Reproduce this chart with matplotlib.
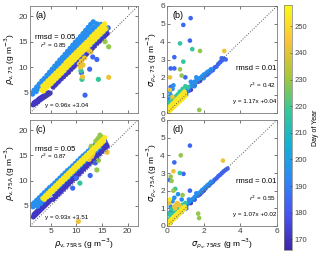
import matplotlib
matplotlib.use('Agg')
import numpy as np
import matplotlib.pyplot as plt
from matplotlib.colors import LinearSegmentedColormap
from matplotlib.cm import ScalarMappable
from matplotlib.colors import Normalize

plt.rcParams.update({'font.family': ['Liberation Sans', 'DejaVu Sans'],
                     'font.size': 6, 'mathtext.fontset': 'dejavusans'})

# parula-like colormap
parula = LinearSegmentedColormap.from_list('parula', [
    (0.2422, 0.1504, 0.6603), (0.2810, 0.3228, 0.9579), (0.1786, 0.5289, 0.9682),
    (0.0689, 0.6948, 0.8394), (0.2161, 0.7843, 0.5923), (0.6720, 0.7793, 0.2227),
    (0.9970, 0.7659, 0.2199), (0.9769, 0.9839, 0.0805)])
day_lo, day_hi = 166, 258

#%% panel (a) data: rho_v,75 vs rho_v,75RS
a_dark_x = [1.6, 1.9, 2.2, 2.5, 2.8, 3.1, 3.4, 3.7, 4.0, 4.3, 4.6, 4.9,
            1.8, 2.1, 2.4, 2.7, 3.0, 3.3, 3.6, 3.9, 4.2, 4.5,
            5.5, 6.0, 6.5, 7.0, 7.5, 8.0, 8.5, 9.0, 9.5, 10.0, 10.5, 11.0, 11.5, 12.0, 12.5,
            13.0, 13.5, 14.0, 14.5, 15.0, 15.5, 16.0,
            5.8, 6.3, 6.8, 7.3, 7.8, 8.3, 8.8, 9.3, 9.8, 10.3, 10.8, 11.3, 11.8, 12.3, 12.8,
            13.3, 13.8, 14.3, 14.8, 15.3, 15.8]
a_dark_y = [2.6, 2.8, 3.0, 3.2, 3.5, 3.7, 3.9, 4.1, 4.3, 4.5, 4.7, 4.9,
            3.0, 3.2, 3.4, 3.7, 3.9, 4.1, 4.3, 4.5, 4.8, 5.0,
            6.1, 6.6, 7.1, 7.7, 8.1, 8.6, 9.0, 9.6, 10.1, 10.6, 11.2, 11.6, 12.1, 12.6, 13.1,
            13.6, 14.1, 14.7, 15.1, 15.6, 16.1, 16.6,
            6.9, 7.4, 7.9, 8.4, 8.9, 9.4, 9.9, 10.4, 10.9, 11.4, 11.9, 12.4, 12.9, 13.4, 13.9,
            14.4, 14.9, 15.4, 15.9, 16.4, 16.9]
a_blue_x = [4.8, 5.3, 5.8, 6.3, 6.8, 7.3, 7.8, 8.3, 8.8, 9.3, 9.8, 10.3, 10.8, 11.3, 11.8,
            12.3, 12.8, 13.3, 13.8, 14.3, 14.8, 15.3, 15.8, 16.2,
            12.6, 14.0, 11.0, 11.7, 13.2]
a_blue_y = [6.4, 6.9, 7.4, 7.9, 8.4, 8.9, 9.4, 9.9, 10.4, 10.9, 11.4, 11.9, 12.4, 12.9, 13.4,
            13.9, 14.4, 14.9, 15.4, 15.9, 16.4, 16.9, 17.4, 17.7,
            9.6, 11.5, 8.9, 4.5, 12.0]
a_light_x = [1.3, 1.8, 2.3, 2.8, 3.3, 3.8, 4.3, 4.8, 5.3, 5.8, 6.3, 6.8, 7.3, 7.8, 8.3, 8.8,
             9.3, 9.8, 10.3, 10.8, 11.3, 11.8, 12.3, 12.8, 13.3,
             1.5, 2.0, 2.5, 3.0, 3.5, 4.0, 4.5, 5.0, 5.5, 6.0, 6.5, 7.0, 7.5, 8.0, 8.5, 9.0,
             9.5, 10.0, 10.5, 11.0, 11.5, 12.0, 12.5, 13.0, 13.5, 14.0,
             2.2, 2.8, 3.4, 4.0, 4.6, 5.2, 5.8, 6.4, 7.0, 7.6, 8.2, 8.8, 9.4, 10.0, 10.6,
             11.2, 11.8, 12.4, 13.0, 13.6, 14.2, 14.8]
a_light_y = [4.9, 5.5, 6.1, 6.7, 7.3, 7.8, 8.4, 9.0, 9.6, 10.2, 10.8, 11.4, 11.9, 12.5, 13.1, 13.7,
             14.3, 14.9, 15.4, 16.0, 16.6, 17.2, 17.8, 18.4, 18.9,
             4.7, 5.3, 5.8, 6.4, 6.9, 7.5, 8.0, 8.6, 9.1, 9.7, 10.2, 10.8, 11.3, 11.9, 12.4, 13.0,
             13.5, 14.1, 14.6, 15.2, 15.7, 16.3, 16.8, 17.4, 17.9, 18.5,
             5.2, 5.8, 6.5, 7.1, 7.7, 8.4, 9.0, 9.6, 10.3, 10.9, 11.5, 12.1, 12.8, 13.4, 14.0,
             14.7, 15.3, 15.9, 16.6, 17.2, 17.8, 18.4]
a_teal_x = [8.0, 8.6, 9.2, 9.8, 10.4, 11.0, 11.6, 12.2, 12.8, 13.4, 14.0, 14.6, 15.1,
            11.1, 14.3, 10.9]
a_teal_y = [9.9, 10.5, 11.1, 11.7, 12.3, 12.9, 13.5, 14.1, 14.7, 15.3, 15.9, 16.5, 17.0,
            7.6, 7.6, 9.3]
a_green_x = [12.6, 13.1, 13.6, 14.1, 14.6, 15.0, 15.4, 15.8, 16.3, 15.6]
a_green_y = [14.4, 14.9, 15.4, 15.9, 16.4, 16.8, 17.2, 17.6, 14.0, 15.0]
a_orange_x = [10.6, 11.0, 11.3, 10.8, 12.4, 12.8, 11.6, 11.2, 16.3]
a_orange_y = [10.6, 11.2, 10.4, 10.0, 13.3, 13.0, 11.8, 8.1, 8.0]
a_yellow_x = [3.3, 3.8, 4.3, 4.8, 5.3, 5.8, 6.3, 6.8, 7.3, 7.8, 8.3, 8.8, 9.3, 9.8, 10.3, 10.8,
              11.3, 11.8, 12.3, 12.8, 13.3, 13.8, 14.3, 14.8, 15.3,
              3.5, 4.0, 4.5, 5.0, 5.5, 6.0, 6.5, 7.0, 7.5, 8.0, 8.5, 9.0, 9.5, 10.0, 10.5, 11.0,
              11.5, 12.0, 12.5, 13.0, 13.5, 14.0, 14.5, 15.0, 15.5,
              3.6, 4.1, 4.6, 5.1, 5.6, 6.1, 6.6, 7.1, 7.6, 8.1, 8.6, 9.1, 9.6, 10.1, 10.6, 11.1,
              11.6, 12.1, 12.6, 13.1, 13.6, 14.1, 14.6, 15.1, 15.6]
a_yellow_y = [5.5, 6.0, 6.5, 7.0, 7.5, 8.0, 8.5, 9.0, 9.5, 10.1, 10.6, 11.1, 11.6, 12.1, 12.6, 13.1,
              13.6, 14.1, 14.6, 15.2, 15.7, 16.2, 16.7, 17.2, 17.7,
              6.3, 6.8, 7.3, 7.8, 8.3, 8.8, 9.3, 9.8, 10.3, 10.9, 11.4, 11.9, 12.4, 12.9, 13.4, 13.9,
              14.4, 14.9, 15.4, 16.0, 16.5, 17.0, 17.5, 18.0, 18.5,
              5.3, 5.8, 6.3, 6.8, 7.3, 7.8, 8.3, 8.8, 9.3, 9.9, 10.4, 10.9, 11.4, 11.9, 12.4, 12.9,
              13.4, 13.9, 14.4, 15.0, 15.5, 16.0, 16.5, 17.0, 17.5]

#%% panel (c) data: rho_v,75A vs rho_v,75RS
c_dark_x = [1.65, 1.95, 2.25, 2.55, 2.85, 3.15, 3.45, 3.75, 4.05, 4.35, 4.65, 4.9,
            1.8, 2.1, 2.4, 2.7, 3.0, 3.3, 3.6, 3.9, 4.2, 4.5,
            5.5, 6.0, 6.5, 7.0, 7.5, 8.0, 8.5, 9.0, 9.5, 10.0, 10.5, 11.0, 11.5, 12.0, 12.5,
            13.0, 13.5, 14.0, 14.5, 15.0, 15.5, 16.0,
            5.8, 6.3, 6.8, 7.3, 7.8, 8.3, 8.8, 9.3, 9.8, 10.3, 10.8, 11.3, 11.8, 12.3, 12.8,
            13.3, 13.8, 14.3, 14.8, 15.3, 15.8,
            6.0, 6.6, 7.2, 7.8, 8.4, 9.0, 9.6, 10.2, 10.8, 11.4, 12.0, 12.6, 13.2, 13.8, 14.4,
            15.0, 15.6]
c_dark_y = [2.8, 3.1, 3.4, 3.7, 4.0, 4.3, 4.6, 4.9, 5.2, 5.5, 5.8, 6.1,
            3.3, 3.6, 3.9, 4.2, 4.5, 4.8, 5.1, 5.4, 5.7, 6.0,
            6.3, 6.8, 7.3, 7.8, 8.3, 8.8, 9.3, 9.8, 10.3, 10.8, 11.3, 11.8, 12.3, 12.8, 13.3,
            13.8, 14.3, 14.8, 15.3, 15.8, 16.3, 16.8,
            7.2, 7.7, 8.2, 8.7, 9.2, 9.7, 10.2, 10.7, 11.2, 11.7, 12.2, 12.7, 13.2, 13.7, 14.2,
            14.7, 15.2, 15.7, 16.2, 16.7, 17.2,
            8.0, 8.6, 9.2, 9.8, 10.4, 11.0, 11.6, 12.2, 12.8, 13.4, 14.0, 14.6, 15.2, 15.8, 16.4,
            17.0, 17.6]
c_blue_x = [5.5, 6.0, 6.5, 7.0, 7.5, 8.0, 8.5, 9.0, 9.5, 10.0, 10.5, 11.0, 11.5, 12.0, 12.5,
            13.0, 13.5, 14.0, 14.5, 15.0, 15.5,
            10.0, 12.7, 13.7, 9.3]
c_blue_y = [7.9, 8.4, 8.9, 9.4, 9.9, 10.4, 10.9, 11.4, 11.9, 12.4, 12.9, 13.4, 13.9, 14.4, 14.9,
            15.4, 15.9, 16.4, 16.9, 17.4, 17.9,
            10.5, 11.0, 13.5, 8.5]
c_light_x = [1.3, 1.8, 2.3, 2.8, 3.3, 3.8, 4.3, 4.8, 5.3, 5.8, 6.3, 6.8, 7.3, 7.8, 8.3, 8.8,
             9.3, 9.8, 10.3, 10.8, 11.3, 11.8, 12.3, 12.8, 13.3, 13.8, 14.3,
             1.6, 2.1, 2.6, 3.1, 3.6, 4.1, 4.6, 5.1, 5.6, 6.1, 6.6, 7.1, 7.6, 8.1, 8.6, 9.1,
             9.6, 10.1, 10.6, 11.1, 11.6, 12.1, 12.6, 13.1, 13.6, 14.1, 14.6,
             2.5, 3.1, 3.7, 4.3, 4.9, 5.5, 6.1, 6.7, 7.3, 7.9, 8.5, 9.1, 9.7, 10.3, 10.9,
             11.5, 12.1, 12.7, 13.3, 13.9, 14.5]
c_light_y = [5.2, 5.6, 6.1, 6.6, 7.1, 7.6, 8.1, 8.6, 9.0, 9.5, 10.0, 10.5, 11.0, 11.5, 12.0, 12.4,
             12.9, 13.4, 13.9, 14.4, 14.9, 15.3, 15.8, 16.3, 16.8, 17.3, 17.8,
             4.8, 5.2, 5.7, 6.2, 6.7, 7.2, 7.7, 8.1, 8.6, 9.1, 9.6, 10.1, 10.6, 11.1, 11.5, 12.0,
             12.5, 13.0, 13.5, 14.0, 14.5, 14.9, 15.4, 15.9, 16.4, 16.9, 17.4,
             4.9, 5.5, 6.1, 6.7, 7.3, 7.8, 8.4, 9.0, 9.6, 10.2, 10.7, 11.3, 11.9, 12.5, 13.1,
             13.7, 14.2, 14.8, 15.4, 16.0, 16.6]
c_teal_x = [8.2, 9.4, 10.6, 11.8, 13.0, 14.0, 10.7]
c_teal_y = [10.6, 11.9, 13.2, 14.5, 15.6, 16.8, 9.5]
c_green_x = [13.8, 14.2, 14.6, 15.0, 12.9, 14.0, 14.3]
c_green_y = [17.8, 18.3, 19.0, 18.6, 16.8, 12.1, 14.0]
c_orange_x = [10.4, 16.0, 12.5, 13.0, 12.2, 13.2]
c_orange_y = [1.9, 15.6, 14.2, 14.8, 14.6, 15.3]
c_yellow_x = [3.5, 4.0, 4.5, 5.0, 5.5, 6.0, 6.5, 7.0, 7.5, 8.0, 8.5, 9.0, 9.5, 10.0, 10.5, 11.0,
              11.5, 12.0, 12.5, 13.0, 13.5, 14.0, 14.5, 15.0, 15.5,
              3.8, 4.3, 4.8, 5.3, 5.8, 6.3, 6.8, 7.3, 7.8, 8.3, 8.8, 9.3, 9.8, 10.3, 10.8, 11.3,
              11.8, 12.3, 12.8, 13.3, 13.8, 14.3, 14.8, 15.3]
c_yellow_y = [6.5, 7.0, 7.5, 8.0, 8.5, 9.0, 9.5, 10.0, 10.5, 11.0, 11.5, 12.0, 12.5, 13.0, 13.5, 14.0,
              14.5, 15.0, 15.5, 16.0, 16.5, 17.0, 17.5, 18.0, 18.5,
              6.3, 6.8, 7.3, 7.8, 8.3, 8.8, 9.3, 9.8, 10.3, 10.8, 11.3, 11.8, 12.3, 12.8, 13.3, 13.8,
              14.3, 14.8, 15.3, 15.8, 16.3, 16.8, 17.3, 17.8]

#%% panel (b) data: sigma rho_v,75 vs sigma rho_v,75RS
b_dark_x = [0.2, 0.5, 0.8, 1.0, 1.3, 1.5, 1.8, 2.0]
b_dark_y = [0.22, 0.55, 0.82, 1.05, 1.3, 1.55, 1.8, 2.05]
b_blue_x = [1.0, 1.2, 1.5, 1.7, 1.9, 2.1, 2.2, 2.3, 2.4, 2.5, 2.6, 2.7, 2.8, 2.9, 3.0, 3.1,
            3.2, 2.98, 1.29, 0.89, 1.25, 0.4, 0.2, 0.4, 0.2, 1.0]
b_blue_y = [1.1, 1.25, 1.55, 1.75, 1.95, 2.1, 2.15, 2.25, 2.35, 2.4, 2.55, 2.6, 2.75, 2.85, 2.95, 3.05,
            3.0, 3.07, 5.32, 4.94, 4.06, 3.13, 2.5, 2.5, 1.46, 2.0]
b_light_x = [0.3, 0.4, 0.5, 0.6, 0.7, 0.8, 0.9, 1.0, 1.1, 1.2, 1.3, 1.4, 1.5, 1.6, 1.7, 1.8,
             1.9, 2.0, 2.1, 2.2, 2.3, 2.4, 0.1, 0.15, 0.2, 0.05, 1.3, 1.6, 2.0, 1.05, 1.5,
             0.3, 0.35]
b_light_y = [0.45, 0.6, 0.7, 0.8, 0.95, 1.0, 1.1, 1.2, 1.3, 1.45, 1.5, 1.6, 1.75, 1.8, 1.9, 1.95,
             2.05, 2.15, 2.2, 2.3, 2.35, 2.45, 0.6, 1.2, 1.0, 0.8, 1.75, 2.0, 1.95, 1.05, 1.5,
             1.35, 1.55]
b_teal_x = [0.1, 0.2, 0.3, 0.4, 0.5, 0.6, 0.7, 0.85, 1.0, 1.15, 0.25, 0.15, 0.71, 1.38, 0.89]
b_teal_y = [0.4, 0.55, 0.7, 0.8, 0.95, 1.05, 1.2, 1.35, 1.5, 1.45, 0.9, 0.6, 3.9, 3.58, 2.88]
b_green_x = [1.8, 0.71, 1.76, 0.8]
b_green_y = [3.48, 2.45, 0.17, 2.1]
b_orange_x = [0.16, 0.16, 3.12, 0.3]
b_orange_y = [2.0, 1.29, 3.48, 0.9]
b_yellow_x = [0.02, 0.08, 0.14, 0.2, 0.26, 0.32, 0.38, 0.44, 0.5, 0.56, 0.62, 0.68, 0.74, 0.8,
              0.86, 0.92, 0.98, 0.05, 0.15, 0.25, 0.35, 0.45, 0.55, 0.65, 0.75, 0.85, 0.95,
              0.1, 0.2, 0.3, 0.4, 0.5, 0.6, 0.7, 0.8, 0.9, 1.0]
b_yellow_y = [0.07, 0.13, 0.2, 0.26, 0.32, 0.39, 0.45, 0.51, 0.58, 0.64, 0.7, 0.76, 0.83, 0.89,
              0.95, 1.02, 1.08, 0.25, 0.36, 0.46, 0.57, 0.67, 0.78, 0.88, 0.99, 1.09, 1.2,
              0.08, 0.17, 0.27, 0.36, 0.46, 0.55, 0.65, 0.74, 0.84, 0.93]

#%% panel (d) data: sigma rho_v,75A vs sigma rho_v,75RS
d_dark_x = [0.2, 0.5, 0.8, 1.0, 1.3, 1.5, 1.8, 2.0]
d_dark_y = [0.2, 0.52, 0.8, 1.02, 1.3, 1.5, 1.8, 2.0]
d_blue_x = [1.5, 1.7, 1.9, 2.1, 2.3, 2.5, 2.6, 2.7, 2.8, 2.9, 3.0, 3.1, 3.2, 3.3, 2.2, 2.4,
            1.25, 0.4, 0.9, 1.25, 1.05, 0.2, 0.15]
d_blue_y = [1.5, 1.72, 1.9, 2.12, 2.3, 2.5, 2.62, 2.7, 2.82, 2.9, 3.0, 3.1, 3.18, 3.25, 2.25, 2.42,
            4.55, 3.6, 2.95, 2.0, 1.0, 0.8, 2.6]
d_light_x = [0.3, 0.4, 0.5, 0.6, 0.7, 0.8, 0.9, 1.0, 1.1, 1.2, 1.3, 1.4, 1.5, 1.6, 1.7, 1.8,
             1.9, 2.0, 2.1, 2.2, 2.3, 2.4, 0.3, 0.4, 0.6, 0.8, 0.1, 0.2, 1.2, 1.6]
d_light_y = [0.42, 0.55, 0.63, 0.75, 0.85, 0.95, 1.03, 1.14, 1.22, 1.35, 1.42, 1.52, 1.63, 1.72, 1.83, 1.9,
             2.02, 2.1, 2.2, 2.3, 2.38, 2.5, 1.4, 1.6, 1.8, 1.5, 0.7, 1.1, 1.5, 1.85]
d_teal_x = [0.1, 0.2, 0.3, 0.4, 0.5, 0.6, 0.7, 0.85, 1.0, 0.15, 0.25, 0.7, 0.45]
d_teal_y = [0.35, 0.5, 0.6, 0.75, 0.85, 0.95, 1.05, 1.2, 1.3, 0.7, 0.95, 3.0, 2.1]
d_green_x = [0.75, 0.2, 0.25, 0.35, 0.85, 1.7, 1.75]
d_green_y = [4.0, 2.8, 2.55, 2.0, 1.75, 0.7, 0.45]
d_orange_x = [0.4, 0.5, 0.6, 0.7, 0.45, 0.55, 0.35, 0.1, 3.05]
d_orange_y = [1.1, 1.2, 1.25, 1.15, 1.0, 1.3, 3.1, 1.3, 3.7]
d_yellow_x = [0.02, 0.08, 0.14, 0.2, 0.26, 0.32, 0.38, 0.44, 0.5, 0.56, 0.62, 0.68, 0.74, 0.8,
              0.86, 0.92, 0.98, 0.05, 0.15, 0.25, 0.35, 0.45, 0.55, 0.65, 0.75, 0.85, 0.95,
              0.15]
d_yellow_y = [0.05, 0.11, 0.17, 0.23, 0.29, 0.35, 0.41, 0.47, 0.53, 0.59, 0.65, 0.71, 0.77, 0.83,
              0.89, 0.95, 1.01, 0.2, 0.3, 0.4, 0.5, 0.6, 0.7, 0.8, 0.9, 1.0, 1.1,
              1.5]

# day of year for each colour group
group_days = [171, 184, 195, 217, 229, 242, 253]

# fit statistics shown in each panel
stats_rmsd = ['0.05', '0.01', '0.05', '0.01']
stats_r2 = ['0.85', '0.42', '0.87', '0.55']
stats_fit = ['y = 0.96x +3.04', 'y = 1.17x +0.04', 'y = 0.93x +3.51', 'y = 1.07x +0.02']

panels = {
    'a': [(a_dark_x, a_dark_y), (a_blue_x, a_blue_y), (a_light_x, a_light_y), (a_teal_x, a_teal_y),
          (a_green_x, a_green_y), (a_orange_x, a_orange_y), (a_yellow_x, a_yellow_y)],
    'b': [(b_dark_x, b_dark_y), (b_blue_x, b_blue_y), (b_light_x, b_light_y), (b_teal_x, b_teal_y),
          (b_green_x, b_green_y), (b_orange_x, b_orange_y), (b_yellow_x, b_yellow_y)],
    'c': [(c_dark_x, c_dark_y), (c_blue_x, c_blue_y), (c_light_x, c_light_y), (c_teal_x, c_teal_y),
          (c_green_x, c_green_y), (c_orange_x, c_orange_y), (c_yellow_x, c_yellow_y)],
    'd': [(d_dark_x, d_dark_y), (d_blue_x, d_blue_y), (d_light_x, d_light_y), (d_teal_x, d_teal_y),
          (d_green_x, d_green_y), (d_orange_x, d_orange_y), (d_yellow_x, d_yellow_y)],
}

#%% figure
W, H = 320, 258
fig = plt.figure(figsize=(W / 100, H / 100), dpi=100)

def fpos(x0, y0, x1, y1):
    # pixel box -> figure fraction
    return [x0 / W, 1 - y1 / H, (x1 - x0) / W, (y1 - y0) / H]

axes = {
    'a': fig.add_axes(fpos(30, 6, 138, 113)),
    'b': fig.add_axes(fpos(167, 6, 277, 113)),
    'c': fig.add_axes(fpos(30, 120, 138, 226)),
    'd': fig.add_axes(fpos(167, 120, 277, 226)),
}
gray = '#7a7a7a'
norm = Normalize(day_lo, day_hi)

for j, key in enumerate(['a', 'b', 'c', 'd']):
    ax = axes[key]
    rho = key in ('a', 'c')
    lim = (1, 22) if rho else (0, 6)
    for day, (xs, ys) in zip(group_days, panels[key]):
        ax.scatter(xs, ys, c=[day] * len(xs), cmap=parula, norm=norm,
                   s=14 if rho else 11, linewidths=0, zorder=2)
    ax.plot(lim, lim, ':', color='#555555', lw=0.7, zorder=3)
    ax.set_xlim(lim)
    ax.set_ylim(lim)
    if rho:
        ax.set_xticks([5, 10, 15, 20])
        ax.set_yticks([5, 10, 15, 20])
    else:
        ax.set_xticks([0, 2, 4, 6])
        ax.set_yticks([0, 1, 2, 3, 4, 5, 6])
    ax.tick_params(direction='in', length=2, width=0.5, labelsize=6, pad=1.5,
                   top=True, right=True, colors='#404040')
    for sp in ax.spines.values():
        sp.set_color(gray)
        sp.set_linewidth(0.6)
    if key in ('a', 'b'):
        ax.set_xticklabels([])
    ax.text(0.05, 0.95, '(%s)' % key, transform=ax.transAxes, ha='left', va='top',
            fontsize=6.5)
    if rho:
        yr = 15.8 if key == 'a' else 16.2
        ax.text(2.0, yr, 'rmsd = ' + stats_rmsd[j], fontsize=5.5, ha='left', va='center')
        ax.text(3.0, yr - 1.5, '$r^2$ = ' + stats_r2[j], fontsize=4.5, ha='left', va='center')
        ax.text(4.0, 2.4 if key == 'a' else 2.7, stats_fit[j], fontsize=4.5, ha='left',
                va='center')
    else:
        ax.text(5.95, 2.5, 'rmsd = ' + stats_rmsd[j], fontsize=5.5, ha='right', va='center')
        ax.text(5.95, 1.55, '$r^2$ = ' + stats_r2[j], fontsize=4.5, ha='right', va='center')
        ax.text(5.95, 0.65, stats_fit[j], fontsize=4.5, ha='right', va='center')

unit = ' (g m$^{-3}$)'
axes['a'].set_ylabel(r'$\rho_{\rm v,75}$' + unit, fontsize=6, labelpad=1)
axes['c'].set_ylabel(r'$\rho_{\rm v,75A}$' + unit, fontsize=6, labelpad=1)
axes['b'].set_ylabel(r'$\sigma_{\rho_{\rm v},75}$' + unit, fontsize=6, labelpad=1)
axes['d'].set_ylabel(r'$\sigma_{\rho_{\rm v},75A}$' + unit, fontsize=6, labelpad=1)
axes['c'].set_xlabel(r'$\rho_{\rm v,75RS}$' + unit, fontsize=6, labelpad=1)
axes['d'].set_xlabel(r'$\sigma_{\rho_{\rm v},75RS}$' + unit, fontsize=6, labelpad=1)

# colorbar
cax = fig.add_axes(fpos(284, 5, 292, 250))
cb = fig.colorbar(ScalarMappable(norm=norm, cmap=parula), cax=cax)
cb.set_ticks(list(range(170, 251, 10)))
cb.ax.tick_params(direction='in', length=1.5, width=0.4, labelsize=5.5, pad=2, colors='#404040')
cb.outline.set_edgecolor(gray)
cb.outline.set_linewidth(0.5)
cb.set_label('Day of Year', fontsize=5, labelpad=3)

fig.savefig('out.png', dpi=100)
